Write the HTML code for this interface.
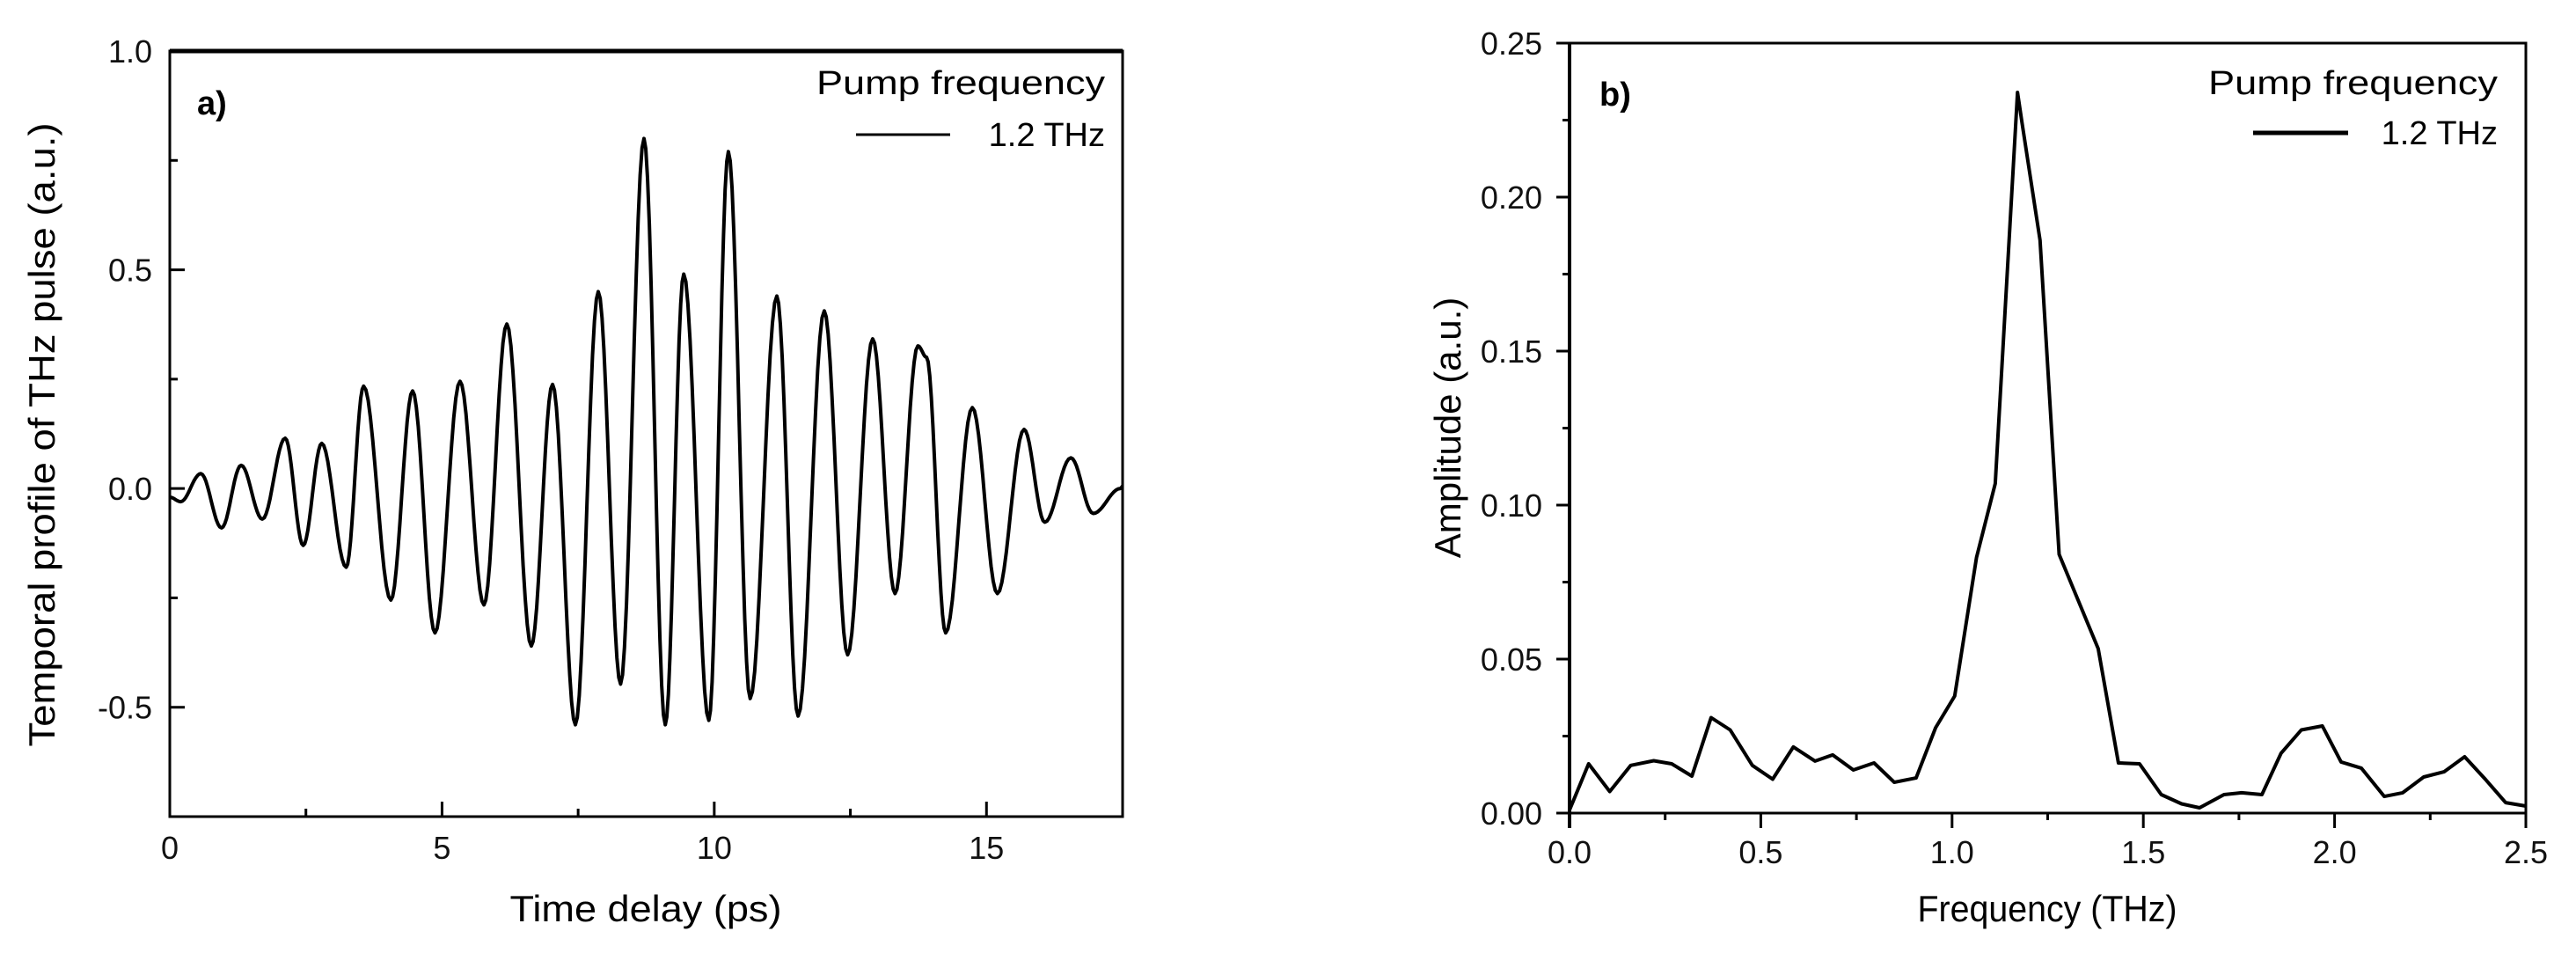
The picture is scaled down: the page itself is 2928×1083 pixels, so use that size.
<!DOCTYPE html>
<html><head><meta charset="utf-8"><style>
html,body{margin:0;padding:0;background:#fff;}
svg{display:block;font-family:"Liberation Sans",Arial,sans-serif;}
</style></head><body>
<svg id="fig" width="2928" height="1083" viewBox="0 0 2928 1083" xmlns="http://www.w3.org/2000/svg">
<rect x="0" y="0" width="2928" height="1083" fill="#fff"/>
<g id="pa"></g>
<g id="pb"></g>
</svg>
<script>
// Panel a: temporal profile extrema (time in ps, amplitude a.u.)
const aTimes = [0,0.2,0.57,0.95,1.31,1.70,2.12,2.45,2.79,3.24,3.56,4.06,4.46,4.87,5.33,5.77,6.19,6.64,7.03,7.45,7.87,8.28,8.71,9.10,9.44,9.90,10.26,10.66,11.15,11.54,12.02,12.45,12.91,13.32,13.74,13.90,14.25,14.74,15.20,15.69,16.07,16.55,16.96,17.46,17.5];
const aValues = [-0.02,-0.03,0.034,-0.09,0.053,-0.07,0.115,-0.13,0.103,-0.18,0.234,-0.255,0.223,-0.33,0.245,-0.266,0.376,-0.36,0.238,-0.54,0.45,-0.447,0.80,-0.54,0.49,-0.53,0.77,-0.48,0.44,-0.52,0.406,-0.38,0.342,-0.24,0.326,0.30,-0.33,0.185,-0.24,0.135,-0.077,0.07,-0.057,0.0,0.005];
const aXTicks = [0,5,10,15];
const aXTickLabels = ["0","5","10","15"];
const aYTicks = [-0.5,0,0.5,1.0];
const aYTickLabels = ["-0.5","0.0","0.5","1.0"];
// Panel b: spectrum (THz, amplitude)
const bFreq = [0,0.05,0.105,0.16,0.22,0.267,0.32,0.37,0.42,0.478,0.531,0.585,0.642,0.688,0.742,0.796,0.849,0.906,0.957,1.007,1.064,1.113,1.171,1.183,1.23,1.28,1.382,1.435,1.49,1.547,1.60,1.647,1.711,1.757,1.81,1.86,1.913,1.968,2.017,2.07,2.13,2.178,2.233,2.286,2.34,2.394,2.447,2.5];
const bAmp = [0.001,0.016,0.007,0.0155,0.017,0.016,0.012,0.031,0.027,0.0155,0.011,0.0215,0.0169,0.0189,0.014,0.0163,0.010,0.0114,0.0277,0.038,0.083,0.107,0.234,0.224,0.186,0.084,0.0534,0.0163,0.016,0.006,0.003,0.0017,0.006,0.0066,0.006,0.0194,0.027,0.0283,0.0166,0.0146,0.0054,0.0066,0.0117,0.0134,0.0183,0.011,0.0034,0.0023];
const bXTicks = [0,0.5,1.0,1.5,2.0,2.5];
const bXTickLabels = ["0.0","0.5","1.0","1.5","2.0","2.5"];
const bYTicks = [0,0.05,0.10,0.15,0.20,0.25];
const bYTickLabels = ["0.00","0.05","0.10","0.15","0.20","0.25"];

const NS="http://www.w3.org/2000/svg";
function mk(parent,tag,attrs,text){const e=document.createElementNS(NS,tag);for(const k in attrs)e.setAttribute(k,attrs[k]);if(text!==undefined)e.textContent=text;parent.appendChild(e);return e;}

// ---------- Panel a ----------
const A={l:193,r:1276,t:58,b:928,x0:0,x1:17.5,y0:-0.75,y1:1.0};
const ax=v=>A.l+(v-A.x0)/(A.x1-A.x0)*(A.r-A.l);
const ay=v=>A.b-(v-A.y0)/(A.y1-A.y0)*(A.b-A.t);
const pa=document.getElementById('pa');
let e;
// curve
let d="";
for(let i=0;i<aTimes.length-1;i++){
  const t0=aTimes[i],t1=aTimes[i+1],v0=aValues[i],v1=aValues[i+1];
  const n=12;
  for(let k=(i===0?0:1);k<=n;k++){const s=k/n;const t=t0+(t1-t0)*s;const v=v0+(v1-v0)*(1-Math.cos(Math.PI*s))/2;
    d+=(d?"L":"M")+ax(t).toFixed(1)+","+ay(v).toFixed(1);}
}
e=mk(pa,'path',{d:d,fill:'none',stroke:'#000','stroke-width':4,'stroke-linejoin':'round'});


// frame
e=mk(pa,'rect',{x:A.l,y:A.t,width:A.r-A.l,height:A.b-A.t,fill:'none',stroke:'#000','stroke-width':3});


e=mk(pa,'line',{x1:A.l,x2:A.r,y1:A.t,y2:A.t,stroke:'#000','stroke-width':5});


// x ticks (inward)
for(let v=2.5;v<A.x1;v+=5){e=mk(pa,'line',{x1:ax(v),x2:ax(v),y1:A.b,y2:A.b-9,stroke:'#000','stroke-width':3});

}
aXTicks.forEach((v,i)=>{
  e=mk(pa,'line',{x1:ax(v),x2:ax(v),y1:A.b,y2:A.b-17,stroke:'#000','stroke-width':3});
  
  
  e=mk(pa,'text',{x:ax(v),y:976,'font-size':36,'text-anchor':'middle',fill:'#111'},aXTickLabels[i]);
  
  
});
[-0.75,-0.25,0.25,0.75].forEach(v=>{e=mk(pa,'line',{x1:A.l,x2:A.l+9,y1:ay(v),y2:ay(v),stroke:'#000','stroke-width':3});

});
aYTicks.forEach((v,i)=>{
  e=mk(pa,'line',{x1:A.l,x2:A.l+17,y1:ay(v),y2:ay(v),stroke:'#000','stroke-width':3});
  
  
  e=mk(pa,'text',{x:173,y:ay(v)+13,'font-size':36,'text-anchor':'end',fill:'#111'},aYTickLabels[i]);
  
  
});
e=mk(pa,'text',{x:734,y:1047,'font-size':42,'text-anchor':'middle',fill:'#000',textLength:309,lengthAdjust:'spacingAndGlyphs'},'Time delay (ps)');


e=mk(pa,'text',{x:0,y:0,'font-size':42,'text-anchor':'middle',fill:'#000',transform:'translate(62,494) rotate(-90)',textLength:709,lengthAdjust:'spacingAndGlyphs'},'Temporal profile of THz pulse (a.u.)');


e=mk(pa,'text',{x:224,y:130,'font-size':38,'font-weight':'bold',fill:'#000'},'a)');


e=mk(pa,'text',{x:1256,y:107,'font-size':38,'text-anchor':'end',fill:'#000',textLength:328,lengthAdjust:'spacingAndGlyphs'},'Pump frequency');


e=mk(pa,'line',{x1:973,x2:1080,y1:153,y2:153,stroke:'#000','stroke-width':3});


e=mk(pa,'text',{x:1256,y:166,'font-size':38,'text-anchor':'end',fill:'#000'},'1.2 THz');



// ---------- Panel b ----------
const B={l:1784,r:2871,t:49,b:924,x0:0,x1:2.5,y0:0,y1:0.25};
const bx=v=>B.l+(v-B.x0)/(B.x1-B.x0)*(B.r-B.l);
const by=v=>B.b-(v-B.y0)/(B.y1-B.y0)*(B.b-B.t);
const pb=document.getElementById('pb');
d="";
bFreq.forEach((f,i)=>{d+=(i?"L":"M")+bx(f).toFixed(1)+","+by(bAmp[i]).toFixed(1);});
e=mk(pb,'path',{d:d,fill:'none',stroke:'#000','stroke-width':4,'stroke-linejoin':'round'});


e=mk(pb,'rect',{x:B.l,y:B.t,width:B.r-B.l,height:B.b-B.t,fill:'none',stroke:'#000','stroke-width':3});


e=mk(pb,'line',{x1:B.l,x2:B.l,y1:B.t,y2:B.b+17,stroke:'#000','stroke-width':4});


for(let k=1;k<10;k+=2){const v=k*0.25;e=mk(pb,'line',{x1:bx(v),x2:bx(v),y1:B.b,y2:B.b+8,stroke:'#000','stroke-width':3});

}
bXTicks.forEach((v,i)=>{
  e=mk(pb,'line',{x1:bx(v),x2:bx(v),y1:B.b,y2:B.b+17,stroke:'#000','stroke-width':3});
  
  
  e=mk(pb,'text',{x:bx(v),y:981,'font-size':36,'text-anchor':'middle',fill:'#111'},bXTickLabels[i]);
  
  
});
for(let k=1;k<10;k+=2){const v=k*0.025;e=mk(pb,'line',{x1:B.l-8,x2:B.l,y1:by(v),y2:by(v),stroke:'#000','stroke-width':3});

}
bYTicks.forEach((v,i)=>{
  e=mk(pb,'line',{x1:B.l-15,x2:B.l,y1:by(v),y2:by(v),stroke:'#000','stroke-width':3});
  
  
  e=mk(pb,'text',{x:1753,y:by(v)+13,'font-size':36,'text-anchor':'end',fill:'#111'},bYTickLabels[i]);
  
  
});
e=mk(pb,'text',{x:2327,y:1047,'font-size':42,'text-anchor':'middle',fill:'#000',textLength:295,lengthAdjust:'spacingAndGlyphs'},'Frequency (THz)');


e=mk(pb,'text',{x:0,y:0,'font-size':42,'text-anchor':'middle',fill:'#000',transform:'translate(1660,486) rotate(-90)'},'Amplitude (a.u.)');


e=mk(pb,'text',{x:1818,y:120,'font-size':38,'font-weight':'bold',fill:'#000'},'b)');


e=mk(pb,'text',{x:2839,y:107,'font-size':38,'text-anchor':'end',fill:'#000',textLength:329,lengthAdjust:'spacingAndGlyphs'},'Pump frequency');


e=mk(pb,'line',{x1:2561,x2:2669,y1:151,y2:151,stroke:'#000','stroke-width':5});


e=mk(pb,'text',{x:2839,y:164,'font-size':38,'text-anchor':'end',fill:'#000'},'1.2 THz');


</script>
</body></html>
